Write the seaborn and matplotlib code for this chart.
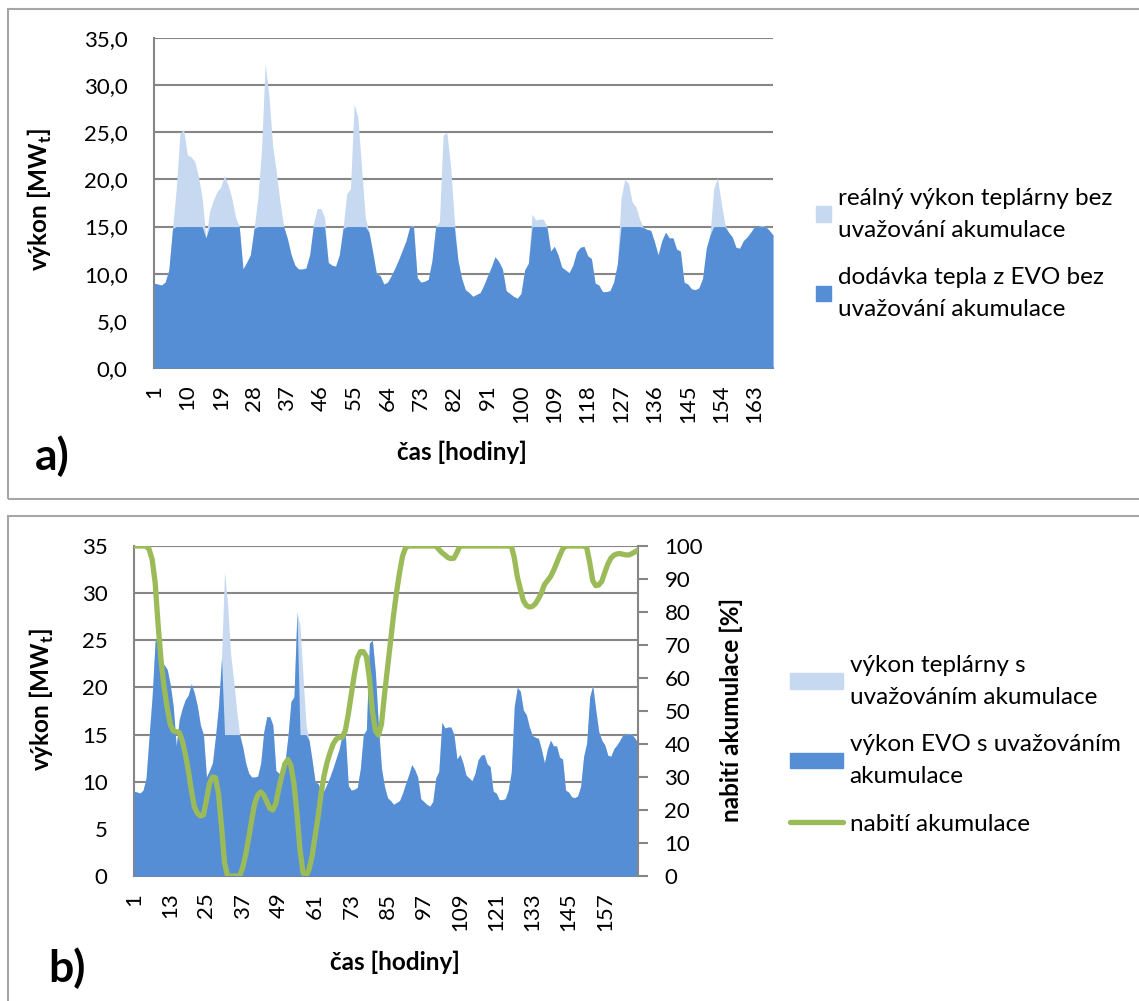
import numpy as np
import pandas as pd
import matplotlib
matplotlib.use("Agg")
import matplotlib.pyplot as plt
import matplotlib.patches as mpatches
import matplotlib.lines as mlines
import seaborn as sns

# ---------------- data ----------------
hours = list(range(1, 169))

real_power = [
    9.0, 8.9, 8.8, 9.1, 10.4, 14.8, 19.0, 24.9, 25.3, 22.6, 22.4, 21.9,
    20.3, 18.0, 13.8, 16.6, 17.8, 18.7, 19.2, 20.4, 19.4, 18.0, 16.0, 15.0,
    10.5, 11.2, 12.0, 14.8, 18.0, 23.1, 32.3, 28.9, 23.6, 20.8, 17.6, 15.0,
    13.7, 12.0, 10.9, 10.5, 10.5, 10.6, 12.0, 15.3, 16.9, 16.9, 16.0, 11.2,
    10.9, 10.8, 12.0, 14.8, 18.5, 19.0, 28.0, 26.6, 21.2, 16.0, 14.4, 12.3,
    10.0, 9.8, 8.9, 9.1, 9.8, 10.6, 11.5, 12.5, 13.5, 15.0, 15.1, 9.6,
    9.1, 9.2, 9.4, 11.4, 15.0, 15.5, 24.7, 25.0, 21.5, 15.8, 11.4, 9.5,
    8.3, 8.0, 7.6, 7.8, 8.0, 8.8, 9.8, 10.7, 11.8, 11.3, 10.5, 8.2,
    7.9, 7.6, 7.4, 7.9, 10.4, 11.1, 16.3, 15.7, 15.8, 15.8, 15.0, 12.4,
    12.9, 12.0, 10.7, 10.4, 10.1, 10.9, 12.3, 12.8, 12.9, 11.9, 11.6, 9.0,
    8.8, 8.1, 8.1, 8.2, 9.1, 11.0, 18.0, 20.0, 19.6, 17.6, 17.1, 15.8,
    14.9, 14.7, 14.6, 13.4, 12.0, 13.5, 14.4, 13.8, 13.8, 12.6, 12.4, 9.1,
    8.9, 8.4, 8.3, 8.5, 9.5, 12.7, 14.1, 19.0, 20.2, 17.6, 15.3, 14.4,
    13.9, 12.8, 12.7, 13.5, 13.9, 14.4, 15.0, 15.0, 15.1, 15.0, 14.6, 14.1,
]

evo_no_acc = [
    9.0, 8.9, 8.8, 9.1, 10.4, 14.8, 15.0, 15.0, 15.0, 15.0, 15.0, 15.0,
    15.0, 15.0, 13.8, 15.0, 15.0, 15.0, 15.0, 15.0, 15.0, 15.0, 15.0, 15.0,
    10.5, 11.2, 12.0, 14.8, 15.0, 15.0, 15.0, 15.0, 15.0, 15.0, 15.0, 15.0,
    13.7, 12.0, 10.9, 10.5, 10.5, 10.6, 12.0, 15.0, 15.0, 15.0, 15.0, 11.2,
    10.9, 10.8, 12.0, 14.8, 15.0, 15.0, 15.0, 15.0, 15.0, 15.0, 14.4, 12.3,
    10.0, 9.8, 8.9, 9.1, 9.8, 10.6, 11.5, 12.5, 13.5, 15.0, 15.0, 9.6,
    9.1, 9.2, 9.4, 11.4, 15.0, 15.0, 15.0, 15.0, 15.0, 15.0, 11.4, 9.5,
    8.3, 8.0, 7.6, 7.8, 8.0, 8.8, 9.8, 10.7, 11.8, 11.3, 10.5, 8.2,
    7.9, 7.6, 7.4, 7.9, 10.4, 11.1, 15.0, 15.0, 15.0, 15.0, 15.0, 12.4,
    12.9, 12.0, 10.7, 10.4, 10.1, 10.9, 12.3, 12.8, 12.9, 11.9, 11.6, 9.0,
    8.8, 8.1, 8.1, 8.2, 9.1, 11.0, 15.0, 15.0, 15.0, 15.0, 15.0, 15.0,
    14.9, 14.7, 14.6, 13.4, 12.0, 13.5, 14.4, 13.8, 13.8, 12.6, 12.4, 9.1,
    8.9, 8.4, 8.3, 8.5, 9.5, 12.7, 14.1, 15.0, 15.0, 15.0, 15.0, 14.4,
    13.9, 12.8, 12.7, 13.5, 13.9, 14.4, 15.0, 15.0, 15.0, 15.0, 14.6, 14.1,
]

plant_acc = list(real_power)

evo_acc = [
    9.0, 8.9, 8.8, 9.1, 10.4, 14.8, 19.0, 24.9, 25.3, 22.6, 22.4, 21.9,
    20.3, 18.0, 13.8, 16.6, 17.8, 18.7, 19.2, 20.4, 19.4, 18.0, 16.0, 15.0,
    10.5, 11.2, 12.0, 14.8, 18.0, 23.1, 15.0, 15.0, 15.0, 15.0, 15.0, 15.0,
    13.7, 12.0, 10.9, 10.5, 10.5, 10.6, 12.0, 15.3, 16.9, 16.9, 16.0, 11.2,
    10.9, 10.8, 12.0, 14.8, 18.5, 19.0, 28.0, 15.0, 15.0, 15.0, 14.4, 12.3,
    10.0, 9.8, 8.9, 9.1, 9.8, 10.6, 11.5, 12.5, 13.5, 15.0, 15.1, 9.6,
    9.1, 9.2, 9.4, 11.4, 15.0, 15.5, 24.7, 25.0, 21.5, 15.8, 11.4, 9.5,
    8.3, 8.0, 7.6, 7.8, 8.0, 8.8, 9.8, 10.7, 11.8, 11.3, 10.5, 8.2,
    7.9, 7.6, 7.4, 7.9, 10.4, 11.1, 16.3, 15.7, 15.8, 15.8, 15.0, 12.4,
    12.9, 12.0, 10.7, 10.4, 10.1, 10.9, 12.3, 12.8, 12.9, 11.9, 11.6, 9.0,
    8.8, 8.1, 8.1, 8.2, 9.1, 11.0, 18.0, 20.0, 19.6, 17.6, 17.1, 15.8,
    14.9, 14.7, 14.6, 13.4, 12.0, 13.5, 14.4, 13.8, 13.8, 12.6, 12.4, 9.1,
    8.9, 8.4, 8.3, 8.5, 9.5, 12.7, 14.1, 19.0, 20.2, 17.6, 15.3, 14.4,
    13.9, 12.8, 12.7, 13.5, 13.9, 14.4, 15.0, 15.0, 15.1, 15.0, 14.6, 14.1,
]

charge = [
    100, 100, 100, 100, 100, 99, 96, 89, 76, 65, 57, 51,
    46, 44, 43.7, 43.5, 41, 37, 32, 26, 21, 19, 18.2, 18.5,
    23, 28, 30, 29.8, 25, 15, 4, 0, 0, 0, 0, 0,
    2.5, 6.5, 11.5, 17, 22, 24.5, 25.5, 24.5, 22.5, 20.5, 20, 22,
    26.5, 30.5, 34, 35.3, 33.5, 28, 19, 8, 1, 0, 2, 6,
    12, 18, 25, 30.5, 34.5, 37.5, 40, 41.5, 42, 42, 44, 49,
    55, 61, 66, 68, 68, 66.5, 60, 50, 44, 42.7, 46, 55,
    63, 71, 79, 86, 92, 97, 99.5, 100, 100, 100, 100, 100,
    100, 100, 100, 100, 100, 99, 98, 97.3, 96.5, 96.2, 96.3, 98,
    100, 100, 100, 100, 100, 100, 100, 100, 100, 100, 100, 100,
    100, 100, 100, 100, 100, 100, 96.5, 90.8, 87, 83.5, 82, 81.5,
    81.7, 82.5, 84, 85.8, 88.3, 89.5, 90.7, 92.5, 94.7, 97, 99, 100,
    100, 100, 100, 100, 100, 100, 99.5, 95, 89.5, 88, 88.2, 89.3,
    92, 94.5, 96.3, 97.2, 97.6, 97.7, 97.5, 97.3, 97.3, 97.7, 98.2, 98.8,
]

legend_a = ["reálný výkon teplárny bez\nuvažování akumulace",
            "dodávka tepla z EVO bez\nuvažování akumulace"]
legend_b = ["výkon teplárny s\nuvažováním akumulace",
            "výkon EVO s uvažováním\nakumulace",
            "nabití akumulace"]
ylabel_power = r"výkon [MW$_{\mathbf{t}}$]"
ylabel_charge = "nabití akumulace [%]"
xlabel = "čas [hodiny]"

df = pd.DataFrame({"hour": hours, "real": real_power, "evo_a": evo_no_acc,
                   "plant_b": plant_acc, "evo_b": evo_acc, "charge": charge})

# ---------------- style ----------------
sns.set_theme(style="white")
plt.rcParams['font.family'] = ['Lato', 'DejaVu Sans']
plt.rcParams['mathtext.fontset'] = 'custom'
plt.rcParams['mathtext.bf'] = 'Lato:bold'
plt.rcParams['mathtext.rm'] = 'Lato'
for k in ['text.color', 'axes.labelcolor', 'xtick.labelcolor', 'ytick.labelcolor']:
    plt.rcParams[k] = 'black'

LIGHT = "#C6D9F1"
DARK = "#558ED5"
GREEN = "#9BBB59"
GRID = "#868686"
FS_TICK = 16
FS = 17.5

W, H = 1139, 1001
fig = plt.figure(figsize=(W / 100, H / 100), dpi=100)

def fx(px):
    return px / W

def fy(py):
    return 1 - py / H

# panel borders
for (y0, y1) in [(9, 499), (516, 1010)]:
    fig.patches.append(mpatches.Rectangle((fx(8), fy(y1)), fx(1200) - fx(8), fy(y0) - fy(y1),
                                          transform=fig.transFigure, fill=False,
                                          edgecolor="#A6A6A6", lw=1.5))

def style_axis(ax):
    ax.set_axisbelow(True)
    ax.yaxis.grid(True, color=GRID, lw=1.5)
    ax.xaxis.grid(False)
    for s in ["top", "right"]:
        ax.spines[s].set_visible(False)
    for s in ["left", "bottom"]:
        ax.spines[s].set_color(GRID)
        ax.spines[s].set_linewidth(1.5)
    ax.set_xlim(1, 168)
    ax.set_ylim(0, 35)
    ax.set_xlabel("")
    ax.set_ylabel("")

# ---------------- panel a ----------------
axa = fig.add_axes([fx(154), fy(368), fx(773) - fx(154), fy(38) - fy(368)])
axa.fill_between(df["hour"], df["real"], color=LIGHT, lw=0, zorder=2)
axa.fill_between(df["hour"], df["evo_a"], color=DARK, lw=0, zorder=3)
style_axis(axa)
axa.set_yticks(range(0, 40, 5))
axa.set_yticklabels([f"{v:.1f}".replace(".", ",") for v in range(0, 40, 5)], fontsize=FS_TICK)
axa.set_xticks(hours[::9])
axa.set_xticklabels([str(h) for h in hours[::9]], fontsize=FS_TICK, rotation=90)
axa.tick_params(axis="y", length=0, pad=19)
axa.tick_params(axis="x", length=0, pad=12)

ha = [mpatches.Patch(color=LIGHT), mpatches.Patch(color=DARK)]
lega = axa.legend(ha, legend_a, loc="upper left", bbox_to_anchor=(fx(816), fy(188)),
                  bbox_transform=fig.transFigure, frameon=False, fontsize=FS,
                  handlelength=0.62, handleheight=0.62, handletextpad=0.3,
                  labelspacing=1.1, borderpad=0, borderaxespad=0)
for t in lega.get_texts():
    t.set_linespacing(1.62)

fig.text(fx(40), fy(200), ylabel_power, rotation=90, ha="center", va="center",
         fontsize=FS, fontweight="bold")
fig.text(fx(462), fy(452), xlabel, ha="center", va="center", fontsize=FS, fontweight="bold")
fig.text(fx(35), fy(456), "a)", ha="left", va="center", fontsize=32, fontweight="bold")

# ---------------- panel b ----------------
axb = fig.add_axes([fx(134), fy(876), fx(638) - fx(134), fy(546) - fy(876)])
axb.fill_between(df["hour"], df["plant_b"], color=LIGHT, lw=0, zorder=2)
axb.fill_between(df["hour"], df["evo_b"], color=DARK, lw=0, zorder=3)
style_axis(axb)
axb.set_yticks(range(0, 40, 5))
axb.set_yticklabels([str(v) for v in range(0, 40, 5)], fontsize=FS_TICK)
axb.set_xticks(hours[::12])
axb.set_xticklabels([str(h) for h in hours[::12]], fontsize=FS_TICK, rotation=90)
axb.tick_params(axis="y", length=0, pad=19)
axb.tick_params(axis="x", length=0, pad=12)

ax2 = axb.twinx()
sns.lineplot(data=df, x="hour", y="charge", ax=ax2, color=GREEN, lw=3.8, zorder=5)
ax2.set_ylim(0, 100)
ax2.set_xlim(1, 168)
ax2.set_yticks(range(0, 101, 10))
ax2.set_yticklabels([str(v) for v in range(0, 101, 10)], fontsize=FS_TICK)
ax2.tick_params(axis="y", length=7, width=1.5, color=GRID, pad=12, direction="out")
ax2.set_ylabel("")
ax2.set_xlabel("")
for s in ["top", "left", "bottom"]:
    ax2.spines[s].set_visible(False)
ax2.spines["right"].set_color(GRID)
ax2.spines["right"].set_linewidth(1.5)
ax2.grid(False)

hb = [mpatches.Patch(color=LIGHT), mpatches.Patch(color=DARK),
      mlines.Line2D([], [], color=GREEN, lw=3.8)]
legb = ax2.legend(hb, legend_b, loc="upper left", bbox_to_anchor=(fx(790), fy(655)),
                  bbox_transform=fig.transFigure, frameon=False, fontsize=FS,
                  handlelength=2.2, handleheight=0.62, handletextpad=0.25,
                  labelspacing=1.1, borderpad=0, borderaxespad=0)
for t in legb.get_texts():
    t.set_linespacing(1.62)

fig.text(fx(42), fy(700), ylabel_power, rotation=90, ha="center", va="center",
         fontsize=FS, fontweight="bold")
fig.text(fx(731), fy(710), ylabel_charge, rotation=90, ha="center", va="center",
         fontsize=FS, fontweight="bold")
fig.text(fx(395), fy(962), xlabel, ha="center", va="center", fontsize=FS, fontweight="bold")
fig.text(fx(48), fy(968), "b)", ha="left", va="center", fontsize=32, fontweight="bold")

fig.savefig("out.png", dpi=100)
